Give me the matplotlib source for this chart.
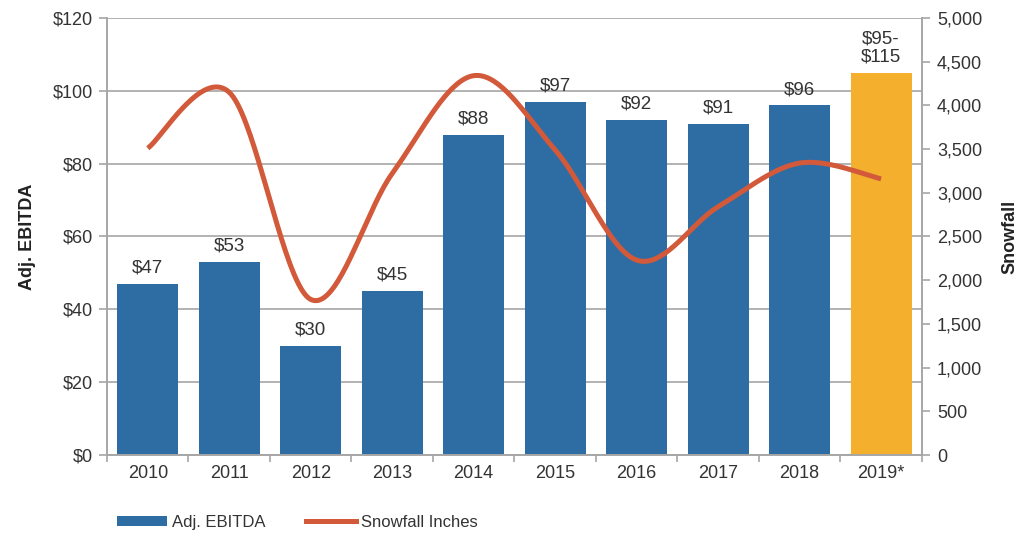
import numpy as np
import matplotlib
matplotlib.use("Agg")
import matplotlib.pyplot as plt
from matplotlib.patches import Patch
from matplotlib.lines import Line2D

plt.rcParams['font.family'] = ['Liberation Sans', 'DejaVu Sans']

years = ["2010", "2011", "2012", "2013", "2014", "2015", "2016", "2017", "2018", "2019*"]
ebitda = [47, 53, 30, 45, 88, 97, 92, 91, 96, 105]
ebitda_labels = ["$47", "$53", "$30", "$45", "$88", "$97", "$92", "$91", "$96", "$95-\n$115"]
snowfall = [3510, 4150, 1780, 3220, 4340, 3490, 2230, 2840, 3340, 3160]

left_ticks = [0, 20, 40, 60, 80, 100, 120]
right_ticks = list(range(0, 5001, 500))

BLUE = "#2E6DA4"
ORANGE = "#F4AF2D"
RED = "#D2593A"
GRID = "#A6A6A6"
TEXT = "#333333"


def smooth_curve(x, y, n=40):
    """Bezier spline through the points, control points at 1/6 of the neighbour span."""
    x = np.asarray(x, float)
    y = np.asarray(y, float)
    px, py = [], []
    for i in range(len(x) - 1):
        x0, y0 = (x[i - 1], y[i - 1]) if i > 0 else (x[i], y[i])
        x3, y3 = (x[i + 2], y[i + 2]) if i + 2 < len(x) else (x[i + 1], y[i + 1])
        c1x = x[i] + (x[i + 1] - x0) / 6
        c1y = y[i] + (y[i + 1] - y0) / 6
        c2x = x[i + 1] - (x3 - x[i]) / 6
        c2y = y[i + 1] - (y3 - y[i]) / 6
        t = np.linspace(0, 1, n)
        bx = ((1 - t) ** 3) * x[i] + 3 * ((1 - t) ** 2) * t * c1x + 3 * (1 - t) * t ** 2 * c2x + t ** 3 * x[i + 1]
        by = ((1 - t) ** 3) * y[i] + 3 * ((1 - t) ** 2) * t * c1y + 3 * (1 - t) * t ** 2 * c2y + t ** 3 * y[i + 1]
        px.extend(bx)
        py.extend(by)
    return np.array(px), np.array(py)


fig = plt.figure(figsize=(10.34, 5.4), dpi=100)
ax = fig.add_axes([0.1035, 0.1574, 0.788, 0.8093])
ax2 = ax.twinx()

x = np.arange(len(years))
colors = [BLUE] * (len(years) - 1) + [ORANGE]
ax.bar(x, ebitda, width=0.75, color=colors, zorder=2)

for xi, v, lab in zip(x, ebitda, ebitda_labels):
    ax.text(xi, v + 2.0, lab, ha="center", va="bottom", fontsize=13.5,
            color=TEXT, linespacing=1.05, zorder=4)

ax.set_xlim(-0.5, len(years) - 0.5)
ax.set_ylim(0, 120)
ax.set_yticks(left_ticks)
ax.set_yticklabels([f"${t}" for t in left_ticks])
ax.yaxis.grid(True, color=GRID, linewidth=1.2, zorder=0)
ax.set_axisbelow(True)

ax.set_xticks(x)
ax.set_xticklabels(years)
ax.set_xticks(np.arange(-0.5, len(years), 1.0), minor=True)
ax.tick_params(axis="x", which="major", length=0, pad=7, labelsize=13, labelcolor=TEXT)
ax.tick_params(axis="x", which="minor", length=5, color=GRID, width=1.2, direction="out")
ax.tick_params(axis="y", length=6, color=GRID, width=1.2, pad=4, labelsize=13, labelcolor=TEXT)

ax.set_ylabel("Adj. EBITDA", fontsize=13, fontweight="bold", color="#222222", labelpad=12)

sx, sy = smooth_curve(x, snowfall)
ax2.plot(sx, sy, color=RED, linewidth=3.6, solid_capstyle="butt", zorder=3)
ax2.set_ylim(0, 5000)
ax2.set_yticks(right_ticks)
ax2.set_yticklabels([f"{t:,}" for t in right_ticks])
ax2.tick_params(axis="y", length=6, color=GRID, width=1.2, pad=5, labelsize=13, labelcolor=TEXT)
ax2.set_ylabel("Snowfall", fontsize=13, fontweight="bold", color="#222222", labelpad=14)

for a in (ax, ax2):
    a.spines["top"].set_visible(False)
    for side in ("left", "right", "bottom"):
        a.spines[side].set_color(GRID)
        a.spines[side].set_linewidth(1.2)

handles = [Patch(facecolor=BLUE, edgecolor="none"),
           Line2D([0], [0], color=RED, linewidth=3.6)]
fig.legend(handles, ["Adj. EBITDA", "Snowfall Inches"], loc="lower left",
           bbox_to_anchor=(0.099, -0.009), ncol=2, frameon=False, fontsize=12,
           handlelength=3.0, handleheight=0.6, handletextpad=0.3, columnspacing=2.4,
           labelcolor=TEXT)

fig.savefig("out.png", dpi=100, facecolor="white")
